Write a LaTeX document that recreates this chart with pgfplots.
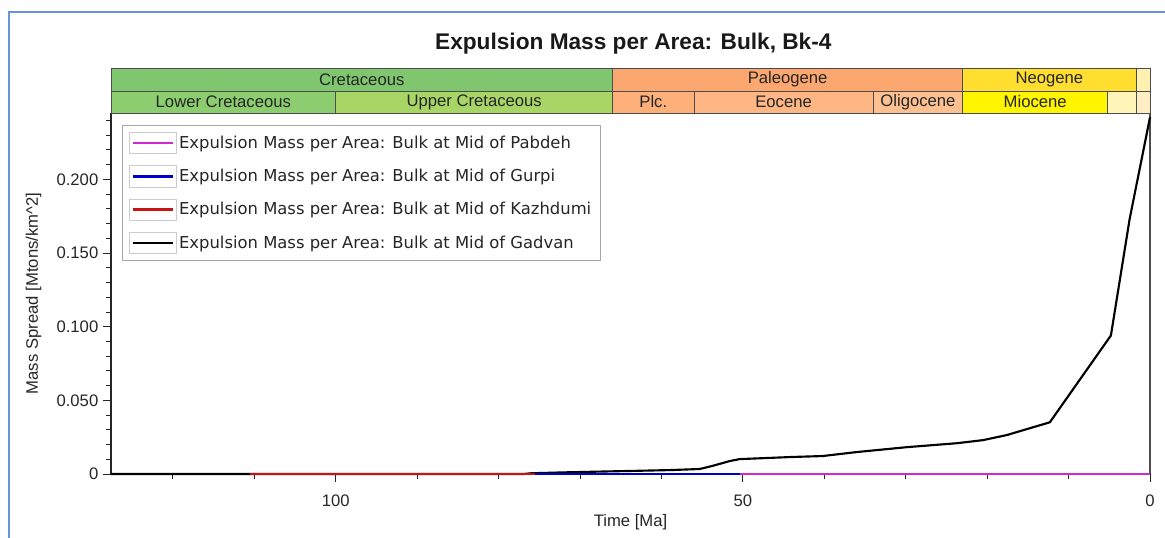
\documentclass[border=0pt]{standalone}
\usepackage{fontspec}
\setmainfont{Liberation Sans}
\newfontfamily\legfont{DejaVu Sans}
\usepackage{pgfplots}
\pgfplotsset{compat=1.18}

\definecolor{cret}{RGB}{127,198,110}
\definecolor{lcret}{RGB}{140,205,112}
\definecolor{ucret}{RGB}{168,214,102}
\definecolor{paleog}{RGB}{252,166,112}
\definecolor{plc}{RGB}{253,176,122}
\definecolor{eoc}{RGB}{253,182,132}
\definecolor{olig}{RGB}{253,192,145}
\definecolor{neog}{RGB}{255,222,48}
\definecolor{mioc}{RGB}{255,245,0}
\definecolor{plio}{RGB}{255,245,185}
\definecolor{pleist}{RGB}{255,238,196}
\definecolor{quat}{RGB}{255,240,175}
\definecolor{frameblue}{RGB}{100,150,215}
\definecolor{pmag}{RGB}{210,40,210}
\definecolor{gblue}{RGB}{0,0,205}
\definecolor{kred}{RGB}{200,20,20}

\newcommand{\tsfont}{\fontsize{12.5}{14}\selectfont}
% x1 x2 ylow yhigh colour label
\newcommand{\tsbox}[6]{%
  \filldraw[fill=#5, draw=black!70, line width=0.6pt] (axis cs:#1,#3) rectangle (axis cs:#2,#4);
  \path (axis cs:#1,#3) -- (axis cs:#2,#4) node[midway, font=\tsfont, text=black!85] {#6};
}

\pgfplotstableread{
t v
127.6 0
77 0
76 0.0005
72 0.0011
67 0.0017
62.7 0.0022
58.7 0.0027
55.3 0.0034
53.8 0.0054
51.6 0.0088
50.4 0.0101
44.2 0.0115
40.2 0.0122
36.0 0.0149
29.9 0.0182
23.7 0.0209
20.5 0.0230
17.6 0.0264
12.3 0.0351
4.8 0.0940
2.5 0.1730
0 0.2420
}\gadvan

\begin{document}
\begin{tikzpicture}
\useasboundingbox (0,0) rectangle (873.75pt,402.75pt);
\draw[frameblue, line width=1.5pt] (6.75pt,-2pt) -- (6.75pt,393.75pt) -- (880pt,393.75pt);
\node[font=\bfseries\fontsize{17}{20}\selectfont, text=black!90] at (475pt,369.75pt) {Expulsion Mass per Area: Bulk, Bk-4};
\begin{axis}[
  at={(83.25pt,47.25pt)}, anchor=south west,
  scale only axis, width=779.25pt, height=270.75pt,
  xmin=0, xmax=127.6, ymin=0, ymax=0.245,
  x dir=reverse,
  clip=false,
  axis x line*=bottom, axis y line*=left,
  x axis line style={black, line width=1.3pt, -},
  y axis line style={black!85, line width=0.8pt, -},
  tick align=outside,
  xtick={0,50,100}, xticklabels={0,50,100},
  minor xtick={10,20,30,40,60,70,80,90,110,120},
  ytick={0,0.05,0.1,0.15,0.2},
  yticklabels={0,0.050,0.100,0.150,0.200},
  minor ytick={0.01,0.02,0.03,0.04,0.06,0.07,0.08,0.09,0.11,0.12,0.13,0.14,0.16,0.17,0.18,0.19,0.21,0.22,0.23,0.24},
  major tick length=6pt, minor tick length=3.5pt,
  every tick/.style={black!85, line width=0.6pt},
  /pgf/number format/assume math mode=true,
  ticklabel style={font=\fontsize{12.5}{14}\selectfont, text=black!85},
  xticklabel style={yshift=-6pt},
  xlabel={Time [Ma]},
  ylabel={Mass Spread [Mtons/km\textasciicircum 2]},
  label style={font=\fontsize{12.5}{14}\selectfont, text=black!85},
  xlabel style={at={(axis description cs:0.5,0)}, anchor=center, yshift=-36pt},
  ylabel style={at={(axis description cs:0,0.5)}, anchor=center, yshift=58pt},
  reverse legend,
  legend cell align=left,
  legend style={at={(axis description cs:0.0106,0.967)}, anchor=north west,
    draw=black!35, fill=white, line width=0.6pt,
    font=\legfont\fontsize{12.3}{14}\selectfont, text=black!85,
    inner xsep=5pt, inner ysep=5pt, row sep=8.5pt},
  legend image code/.code={
    \draw[black!20, line width=0.5pt, fill=white] (0pt,-8pt) rectangle (35pt,8pt);
    \draw[#1, line width=2pt] (2.5pt,0pt) -- (32.5pt,0pt);
  },
]
% geological time scale
\tsbox{127.6}{66}{0.2599}{0.2756}{cret}{Cretaceous}
\tsbox{66}{23}{0.2599}{0.2756}{paleog}{Paleogene}
\tsbox{23}{1.7}{0.2599}{0.2756}{neog}{Neogene}
\tsbox{1.7}{0}{0.2599}{0.2756}{quat}{}
\tsbox{127.6}{100}{0.245}{0.2599}{lcret}{Lower Cretaceous}
\tsbox{100}{66}{0.245}{0.2599}{ucret}{Upper Cretaceous}
\tsbox{66}{56}{0.245}{0.2599}{plc}{Plc.}
\tsbox{56}{34}{0.245}{0.2599}{eoc}{Eocene}
\tsbox{34}{23}{0.245}{0.2599}{olig}{Oligocene}
\tsbox{23}{5.2}{0.245}{0.2599}{mioc}{Miocene}
\tsbox{5.2}{1.7}{0.245}{0.2599}{plio}{}
\tsbox{1.7}{0}{0.245}{0.2599}{pleist}{}
\draw[black!70, line width=0.8pt] (axis cs:0,0) -- (axis cs:0,0.245);

\addplot[black, line width=1.6pt] table[x=t, y=v] {\gadvan};
\addlegendentry{Expulsion Mass per Area: Bulk at Mid of Gadvan}
\addplot[kred, line width=1.6pt] coordinates {(110.5,0) (0,0)};
\addlegendentry{Expulsion Mass per Area: Bulk at Mid of Kazhdumi}
\addplot[gblue, line width=1.6pt] coordinates {(75.5,0) (0,0)};
\addlegendentry{Expulsion Mass per Area: Bulk at Mid of Gurpi}
\addplot[pmag, line width=1.6pt] coordinates {(50.4,0) (0,0)};
\addlegendentry{Expulsion Mass per Area: Bulk at Mid of Pabdeh}
\end{axis}
\end{tikzpicture}
\end{document}
